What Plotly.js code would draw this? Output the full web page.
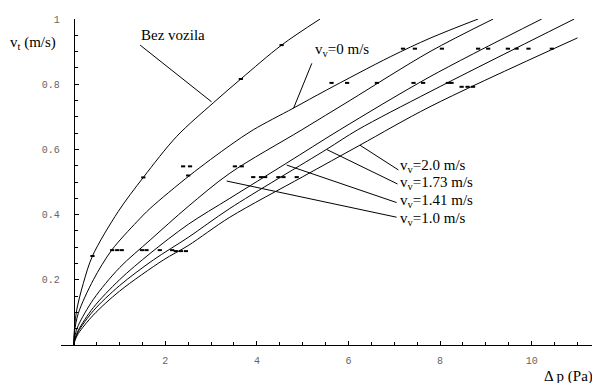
<!DOCTYPE html>
<html><head><meta charset="utf-8">
<script src="https://cdn.plot.ly/plotly-3.0.1.min.js"></script>
<style>html,body{margin:0;padding:0;background:#fff}#chart{width:592px;height:383px}</style>
</head><body><div id="chart"></div>
<script>
// Curves: pressure difference (Pa) vs air velocity (m/s)
const bezDp  = [0, 0.02, 0.065, 0.21, 0.41, 0.97, 1.52, 2.25, 3.05, 3.65, 4.54, 5.38];
const bezV   = [0, 0.055, 0.107, 0.189, 0.273, 0.409, 0.514, 0.64, 0.743, 0.816, 0.92, 1.0];
const vv0Dp  = [0, 0.02, 0.1, 0.43, 0.83, 1.38, 1.67, 2.54, 3.42, 3.92, 4.79, 5.52, 6.91, 7.78, 8.83];
const vv0V   = [0, 0.042, 0.097, 0.2, 0.291, 0.378, 0.419, 0.521, 0.613, 0.66, 0.726, 0.782, 0.884, 0.941, 1.0];
const vv10Dp = [0, 0.03, 0.1, 0.43, 1.0, 1.67, 2.5, 3.41, 4.98, 6.03, 7.78, 9.16];
const vv10V  = [0, 0.03, 0.06, 0.14, 0.237, 0.322, 0.425, 0.527, 0.66, 0.75, 0.90, 1.0];
const vv141Dp = [0, 0.03, 0.1, 0.43, 1.0, 1.67, 2.5, 3.41, 4.65, 5.81, 7.78, 10.22];
const vv141V  = [0, 0.02, 0.045, 0.115, 0.2, 0.281, 0.37, 0.45, 0.558, 0.66, 0.823, 1.0];
const vv173Dp = [0, 0.03, 0.1, 0.43, 1.0, 1.74, 2.5, 3.41, 5.52, 6.2, 7.78, 10.93];
const vv173V  = [0, 0.018, 0.041, 0.105, 0.182, 0.261, 0.33, 0.419, 0.6, 0.66, 0.777, 1.0];
const vv20Dp = [0, 0.03, 0.1, 0.43, 1.0, 1.96, 2.5, 3.41, 5.0, 6.25, 7.78, 11.0];
const vv20V  = [0, 0.015, 0.035, 0.092, 0.165, 0.261, 0.305, 0.392, 0.516, 0.613, 0.731, 0.942];

// Measured points
const measDp = [0.41, 0.84, 0.95, 1.05, 1.49, 1.59, 1.88, 2.15, 2.23, 2.34, 2.45,
                1.52, 2.50, 3.92, 4.09, 4.18, 4.47, 4.58, 4.87,
                2.39, 2.54, 3.52, 3.67,
                3.65, 5.63, 5.97, 6.62, 7.42, 7.63, 8.17, 8.25, 8.47, 8.60, 8.72,
                4.54, 7.19, 7.45, 8.04, 8.83, 9.05, 9.48, 9.67, 9.93, 10.44];
const measV  = [0.273, 0.291, 0.291, 0.291, 0.291, 0.291, 0.291, 0.291, 0.288, 0.288, 0.288,
                0.514, 0.52, 0.515, 0.515, 0.515, 0.515, 0.515, 0.515,
                0.548, 0.548, 0.548, 0.548,
                0.816, 0.804, 0.804, 0.804, 0.804, 0.804, 0.804, 0.804, 0.792, 0.792, 0.792,
                0.92, 0.909, 0.909, 0.909, 0.909, 0.909, 0.909, 0.909, 0.909, 0.909];

const xTickVals = [2, 4, 6, 8, 10];
const xTickText = ['2', '4', '6', '8', '10'];
const yTickVals = [0.2, 0.4, 0.6, 0.8, 1];
const yTickText = ['0.2', '0.4', '0.6', '0.8', '1'];

const curveLabels = ['Bez vozila', 'v<sub>v</sub>=0 m/s', 'v<sub>v</sub>=1.0 m/s',
                     'v<sub>v</sub>=1.41 m/s', 'v<sub>v</sub>=1.73 m/s', 'v<sub>v</sub>=2.0 m/s'];
const xTitle = 'Δ p (Pa)';
const yTitle = 'v<sub>t</sub> (m/s)';

const curves = [[bezDp, bezV], [vv0Dp, vv0V], [vv10Dp, vv10V], [vv141Dp, vv141V], [vv173Dp, vv173V], [vv20Dp, vv20V]];
const traces = curves.map((c, i) => ({
  x: c[0], y: c[1], type: 'scatter', mode: 'lines', name: curveLabels[i],
  line: {color: '#000', width: 1, shape: 'spline', smoothing: 0.9}, hoverinfo: 'skip'
}));
traces.push({
  x: measDp, y: measV, type: 'scatter', mode: 'markers', name: 'measured',
  marker: {symbol: 'line-ew', size: 3, color: '#000', line: {color: '#000', width: 2}}, hoverinfo: 'skip'
});

// label placement (data coords): [textX, textY, leaderFromX, leaderFromY, leaderToX, leaderToY]
const labelPos = [
  [1.43, 0.951, 1.45, 0.92, 3.01, 0.746],
  [5.23, 0.905, 5.20, 0.864, 4.80, 0.726],
  [7.08, 0.385, 7.05, 0.392, 3.34, 0.503],
  [7.08, 0.442, 7.05, 0.437, 4.65, 0.552],
  [7.08, 0.496, 7.07, 0.494, 5.52, 0.600],
  [7.08, 0.550, 7.09, 0.537, 6.25, 0.613]
];
const txtFont = {family: 'Liberation Serif, Times New Roman, serif', size: 15, color: '#000'};
const annotations = labelPos.map((p, i) => ({
  x: p[0], y: p[1], xref: 'x', yref: 'y', text: curveLabels[i], showarrow: false,
  xanchor: 'left', yanchor: 'middle', font: txtFont
}));
const shapes = labelPos.map(p => ({
  type: 'line', xref: 'x', yref: 'y', x0: p[2], y0: p[3], x1: p[4], y1: p[5],
  line: {color: '#000', width: 1}
}));
annotations.push({x: -0.099, y: 0.926, xref: 'paper', yref: 'paper', text: yTitle, showarrow: false,
  xanchor: 'left', yanchor: 'middle', font: txtFont});
annotations.push({x: 0.905, y: -0.098, xref: 'paper', yref: 'paper', text: xTitle, showarrow: false,
  xanchor: 'left', yanchor: 'middle', font: txtFont});

const tickFont = {family: 'Liberation Mono, Courier New, monospace', size: 10, color: '#666'};
const layout = {
  width: 592, height: 383,
  margin: {l: 61, r: 0, t: 19, b: 38, pad: 0},
  paper_bgcolor: '#fff', plot_bgcolor: '#fff',
  showlegend: false,
  xaxis: {
    range: [-0.277, 11.317], tickmode: 'array', tickvals: xTickVals, ticktext: xTickText,
    ticks: 'inside', ticklen: 4, tickcolor: '#000', tickwidth: 1,
    showline: true, linecolor: '#000', linewidth: 1, showgrid: false, zeroline: false,
    tickfont: tickFont, ticklabelstandoff: 6,
    minor: {tickmode: 'linear', tick0: 0, dtick: 0.5, ticks: 'inside', ticklen: 3, tickcolor: '#000', showgrid: false}
  },
  yaxis: {
    range: [0, 1], anchor: 'free', position: 0.0239, side: 'left',
    tickmode: 'array', tickvals: yTickVals, ticktext: yTickText,
    ticks: 'inside', ticklen: 4, tickcolor: '#000', tickwidth: 1,
    showline: true, linecolor: '#000', linewidth: 1, showgrid: false, zeroline: false,
    tickfont: tickFont, ticklabelstandoff: 12,
    minor: {tickmode: 'linear', tick0: 0, dtick: 0.05, ticks: 'inside', ticklen: 3, tickcolor: '#000', showgrid: false}
  },
  annotations: annotations,
  shapes: shapes
};
Plotly.newPlot('chart', traces, layout, {staticPlot: true, displayModeBar: false});
</script>
</body></html>
